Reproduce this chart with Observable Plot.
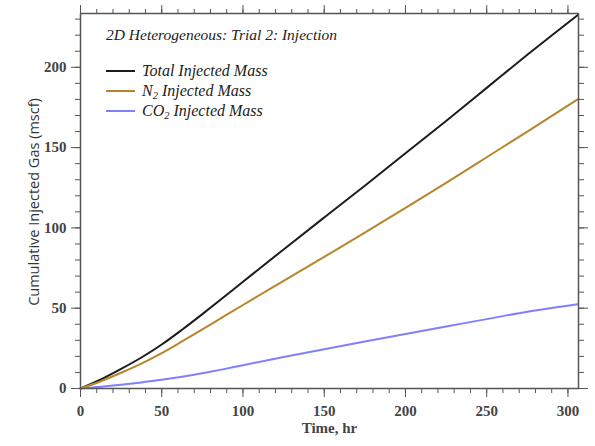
<!DOCTYPE html>
<html>
<head>
<meta charset="utf-8">
<script src="https://cdn.jsdelivr.net/npm/d3@7"></script>
<script src="https://cdn.jsdelivr.net/npm/@observablehq/plot@0.6"></script>
<style>
  html, body { margin: 0; padding: 0; background: #fff; }
  #wrap { position: relative; width: 595px; height: 446px; }
  #legend { position: absolute; left: 106px; top: 26px; font-family: "Liberation Serif", "DejaVu Serif", serif; font-style: italic; font-size: 16px; color: #222; }
  #legend .title { font-size: 15.5px; margin-bottom: 17px; }
  #legend .row { display: flex; align-items: center; height: 20px; }
  #legend .sw { width: 29px; height: 2px; margin-right: 7px; }
  #legend sub { font-size: 10.5px; vertical-align: -3px; line-height: 0; }
</style>
</head>
<body>
<div id="wrap">
<div id="chart"></div>
<div id="legend"></div>
</div>
<script>
const time  = [0, 12.5, 25, 37.5, 50, 62.5, 75, 87.5, 100, 125, 150, 175, 200, 225, 250, 275, 306];
const total = [0, 5.6, 12.2, 19.3, 27.4, 36.6, 46.3, 56.3, 66.5, 86.6, 106.5, 126.3, 146.5, 166.6, 187.2, 207.8, 232.5];
const n2    = [0, 4.5, 9.8, 15.5, 22, 29.3, 36.8, 44.4, 52, 67, 82, 97, 112.5, 128, 144, 160, 180];
const co2   = [0, 1.1, 2.4, 3.8, 5.4, 7.3, 9.5, 11.9, 14.5, 19.6, 24.5, 29.3, 34, 38.6, 43.2, 47.8, 52.5];
const seriesNames = ["Total Injected Mass", "N2 Injected Mass", "CO2 Injected Mass"];
const seriesLabelsHtml = ["Total Injected Mass", "N<sub>2</sub> Injected Mass", "CO<sub>2</sub> Injected Mass"];
const seriesColors = ["#1c1c1c", "#b7852c", "#7f7fff"];
const xTicks = [0, 50, 100, 150, 200, 250, 300];
const yTicks = [0, 50, 100, 150, 200];
const xMinor = d3.range(0, 307, 10);
const yMinor = d3.range(0, 234, 10);

const values = [total, n2, co2];
const rows = [];
values.forEach((arr, i) => arr.forEach((v, j) => rows.push({series: seriesNames[i], t: time[j], v})));

const axisColor = "#555";
const tickFont = {fontFamily: "'Liberation Serif', 'DejaVu Serif', serif", fontWeight: "bold", fontSize: 15, fill: "#444"};

const plot = Plot.plot({
  width: 595,
  height: 446,
  marginLeft: 80,
  marginRight: 17,
  marginTop: 13,
  marginBottom: 58,
  style: {background: "#fff", overflow: "visible"},
  x: {domain: [0, 306.5]},
  y: {domain: [0, 233.5]},
  color: {domain: seriesNames, range: seriesColors},
  marks: [
    Plot.lineY(rows, {x: "t", y: "v", stroke: "series", strokeWidth: 2, curve: "monotone-x"}),
    Plot.frame({stroke: axisColor, strokeWidth: 1.5}),
    Plot.axisX({ticks: xMinor, tickSize: 5, text: null, label: null, anchor: "bottom", stroke: axisColor}),
    Plot.axisX({ticks: xMinor, tickSize: 5, text: null, label: null, anchor: "top", stroke: axisColor}),
    Plot.axisX({ticks: xTicks, tickSize: 9, text: null, label: null, anchor: "top", stroke: axisColor}),
    Plot.axisX({ticks: xTicks, tickSize: 9, tickPadding: 8, anchor: "bottom", stroke: axisColor, ...tickFont,
      label: "Time, hr", labelAnchor: "center", labelArrow: "none", labelOffset: 44}),
    Plot.axisY({ticks: yMinor, tickSize: 5, text: null, label: null, anchor: "left", stroke: axisColor}),
    Plot.axisY({ticks: yMinor, tickSize: 5, text: null, label: null, anchor: "right", stroke: axisColor}),
    Plot.axisY({ticks: yTicks, tickSize: 9, text: null, label: null, anchor: "right", stroke: axisColor}),
    Plot.axisY({ticks: yTicks, tickSize: 9, tickPadding: 5, anchor: "left", stroke: axisColor, ...tickFont,
      label: null})
  ]
});

document.getElementById("chart").appendChild(plot);

// y-axis label (sans)
const svg = d3.select(plot);
svg.append("text")
  .attr("transform", "translate(35,202) rotate(-90)")
  .attr("text-anchor", "middle")
  .attr("dominant-baseline", "middle")
  .attr("font-family", "'Open Sans', 'Noto Sans', sans-serif")
  .attr("font-size", 14.5)
  .attr("fill", "#333")
  .text("Cumulative Injected Gas (mscf)");

// legend
const lg = document.getElementById("legend");
lg.innerHTML = `<div class="title">2D Heterogeneous: Trial 2: Injection</div>` +
  seriesLabelsHtml.map((s, i) => `<div class="row"><div class="sw" style="background:${seriesColors[i]}"></div><span>${s}</span></div>`).join("");
</script>
</body>
</html>
